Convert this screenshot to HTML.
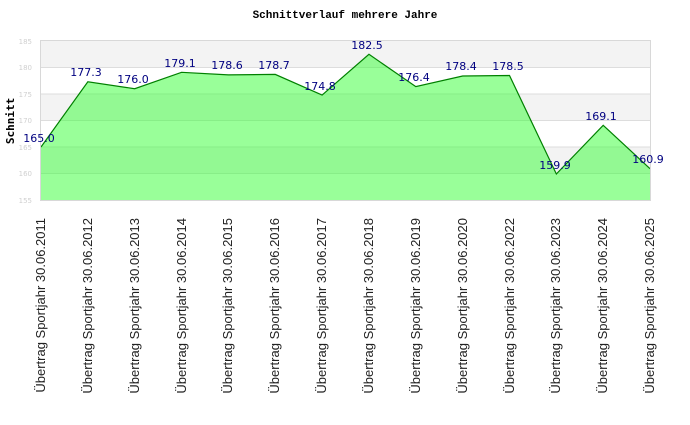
<!DOCTYPE html>
<html><head><meta charset="utf-8"><style>body{margin:0;background:#fff}</style></head><body>
<svg width="690" height="420" xmlns="http://www.w3.org/2000/svg">
<text x="345" y="18" text-anchor="middle" font-family="Liberation Mono, monospace" font-weight="bold" font-size="11">Schnittverlauf mehrere Jahre</text>
<rect x="41" y="41" width="609" height="26.5" fill="#f3f3f3"/>
<rect x="41" y="94" width="609" height="26.5" fill="#f3f3f3"/>
<rect x="41" y="147" width="609" height="26.5" fill="#f3f3f3"/>
<g stroke="#dddddd" stroke-width="1">
<line x1="41" x2="650" y1="67.5" y2="67.5"/><line x1="41" x2="650" y1="94" y2="94"/><line x1="41" x2="650" y1="120.5" y2="120.5"/><line x1="41" x2="650" y1="147" y2="147"/><line x1="41" x2="650" y1="173.5" y2="173.5"/>
</g>
<polygon fill="#33ff33" fill-opacity="0.5" stroke="none" points="41,200 41,147 87.85,81.8 134.7,88.7 181.55,72.3 228.4,74.9 275.25,74.4 322.1,95.1 368.95,54.3 415.8,86.6 462.65,76 509.5,75.5 556.35,174 603.2,125.3 650,168.7 650,200"/>
<polyline fill="none" stroke="#008000" stroke-width="1.2" points="41,147 87.85,81.8 134.7,88.7 181.55,72.3 228.4,74.9 275.25,74.4 322.1,95.1 368.95,54.3 415.8,86.6 462.65,76 509.5,75.5 556.35,174 603.2,125.3 650,168.7"/>
<rect x="40.5" y="40.5" width="610" height="160" fill="none" stroke="#d8d8d8"/>
<g font-family="DejaVu Sans, sans-serif" font-size="7" fill="#d0d0d0" text-anchor="end">
<text x="32" y="44">185</text><text x="32" y="70">180</text><text x="32" y="97">175</text><text x="32" y="123">170</text><text x="32" y="150">165</text><text x="32" y="176">160</text><text x="32" y="203">155</text>
</g>
<text transform="translate(14,121) rotate(-90)" text-anchor="middle" font-family="DejaVu Sans Mono, monospace" font-weight="bold" font-size="11">Schnitt</text>
<g font-family="DejaVu Sans, sans-serif" font-size="11" fill="#000080" text-anchor="middle">
<text x="39" y="142">165.0</text><text x="86" y="76">177.3</text><text x="133" y="83">176.0</text><text x="180" y="67">179.1</text><text x="227" y="69">178.6</text><text x="274" y="69">178.7</text><text x="320" y="90">174.8</text><text x="367" y="49">182.5</text><text x="414" y="81">176.4</text><text x="461" y="70">178.4</text><text x="508" y="70">178.5</text><text x="555" y="169">159.9</text><text x="601" y="120">169.1</text><text x="648" y="163">160.9</text>
</g>
<g font-family="Liberation Sans, sans-serif" font-size="13" fill="#222" text-anchor="end">
<text transform="translate(45,218) rotate(-90)">Übertrag Sportjahr 30.06.2011</text>
<text transform="translate(92,218) rotate(-90)">Übertrag Sportjahr 30.06.2012</text>
<text transform="translate(139,218) rotate(-90)">Übertrag Sportjahr 30.06.2013</text>
<text transform="translate(186,218) rotate(-90)">Übertrag Sportjahr 30.06.2014</text>
<text transform="translate(232,218) rotate(-90)">Übertrag Sportjahr 30.06.2015</text>
<text transform="translate(279,218) rotate(-90)">Übertrag Sportjahr 30.06.2016</text>
<text transform="translate(326,218) rotate(-90)">Übertrag Sportjahr 30.06.2017</text>
<text transform="translate(373,218) rotate(-90)">Übertrag Sportjahr 30.06.2018</text>
<text transform="translate(420,218) rotate(-90)">Übertrag Sportjahr 30.06.2019</text>
<text transform="translate(467,218) rotate(-90)">Übertrag Sportjahr 30.06.2020</text>
<text transform="translate(514,218) rotate(-90)">Übertrag Sportjahr 30.06.2022</text>
<text transform="translate(560,218) rotate(-90)">Übertrag Sportjahr 30.06.2023</text>
<text transform="translate(607,218) rotate(-90)">Übertrag Sportjahr 30.06.2024</text>
<text transform="translate(654,218) rotate(-90)">Übertrag Sportjahr 30.06.2025</text>
</g>
</svg>
</body></html>
